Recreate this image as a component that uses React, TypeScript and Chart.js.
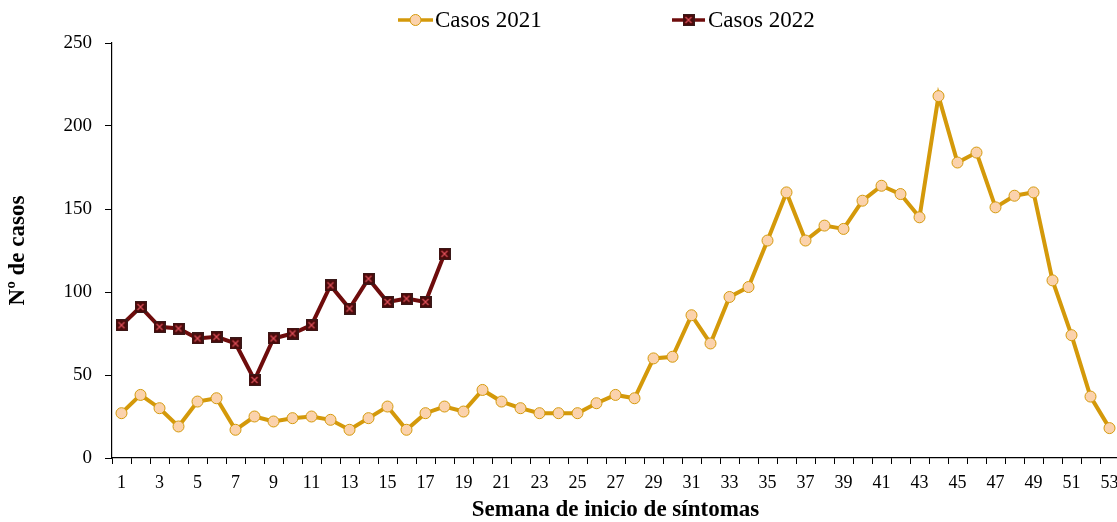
import React, { useEffect, useRef } from 'react';
import { Chart, registerables } from 'chart.js';

Chart.register(...registerables);

const weeks = ['1','2','3','4','5','6','7','8','9','10','11','12','13','14','15','16','17','18','19','20','21','22','23','24','25','26','27','28','29','30','31','32','33','34','35','36','37','38','39','40','41','42','43','44','45','46','47','48','49','50','51','52','53'];

const cases2021 = [27,38,30,19,34,36,17,25,22,24,25,23,17,24,31,17,27,31,28,41,34,30,27,27,27,33,38,36,60,61,86,69,97,103,131,160,131,140,138,155,164,159,145,218,178,184,151,158,160,107,74,37,18];

const cases2022 = [80,91,79,78,72,73,69,47,72,75,80,104,90,108,94,96,94,123];

const seriesLabels = ['Casos 2021', 'Casos 2022'];
const yTicks = [0, 50, 100, 150, 200, 250];

const GOLD = '#D4990A';
const PEACH = '#FBD2AC';
const MAROON = '#6E0C0C';
const SERIF = '"Liberation Serif", "Times New Roman", serif';

function makeSquareMarker(): HTMLCanvasElement {
  const c = document.createElement('canvas');
  c.width = 12;
  c.height = 12;
  const g = c.getContext('2d')!;
  g.fillStyle = '#4A0A0A';
  g.fillRect(0, 0, 12, 12);
  g.strokeStyle = '#3A1A1A';
  g.lineWidth = 1;
  g.strokeRect(0.5, 0.5, 11, 11);
  g.strokeStyle = '#E0505A';
  g.lineWidth = 1.2;
  g.beginPath();
  g.moveTo(3, 3); g.lineTo(9, 9);
  g.moveTo(9, 3); g.lineTo(3, 9);
  g.stroke();
  return c;
}

export default function App() {
  const ref = useRef<HTMLCanvasElement | null>(null);

  useEffect(() => {
    if (!ref.current) return;
    const square = makeSquareMarker();

    const legendPlugin = {
      id: 'customLegend',
      afterDraw(chart: any) {
        const ctx = chart.ctx;
        ctx.save();
        const y = 20;
        ctx.strokeStyle = GOLD;
        ctx.lineWidth = 3.5;
        ctx.beginPath();
        ctx.moveTo(398, y); ctx.lineTo(433, y);
        ctx.stroke();
        ctx.beginPath();
        ctx.arc(415.5, y, 5.5, 0, Math.PI * 2);
        ctx.fillStyle = PEACH;
        ctx.fill();
        ctx.lineWidth = 1;
        ctx.strokeStyle = GOLD;
        ctx.stroke();
        ctx.strokeStyle = MAROON;
        ctx.lineWidth = 3.5;
        ctx.beginPath();
        ctx.moveTo(672, y); ctx.lineTo(705, y);
        ctx.stroke();
        ctx.drawImage(square, 688.5 - 6, y - 6);
        ctx.fillStyle = '#000';
        ctx.font = `23px ${SERIF}`;
        ctx.textBaseline = 'middle';
        ctx.textAlign = 'left';
        ctx.fillText(seriesLabels[0], 435, y + 1);
        ctx.fillText(seriesLabels[1], 708, y + 1);
        ctx.restore();
      },
    };

    const chart = new Chart(ref.current, {
      type: 'line',
      data: {
        labels: weeks,
        datasets: [
          {
            label: seriesLabels[0],
            data: cases2021,
            borderColor: GOLD,
            backgroundColor: PEACH,
            borderWidth: 4,
            pointStyle: 'circle',
            pointRadius: 5.5,
            pointBackgroundColor: PEACH,
            pointBorderColor: GOLD,
            pointBorderWidth: 1,
            tension: 0,
            clip: false as any,
          },
          {
            label: seriesLabels[1],
            data: cases2022,
            borderColor: MAROON,
            backgroundColor: MAROON,
            borderWidth: 4,
            pointStyle: square as any,
            pointRadius: 6,
            tension: 0,
            clip: false as any,
          },
        ],
      },
      options: {
        responsive: false,
        animation: false,
        devicePixelRatio: 1,
        layout: { padding: { top: 43, right: 6, left: 0, bottom: 0 } },
        plugins: {
          legend: { display: false },
          tooltip: { enabled: false },
        },
        scales: {
          x: {
            offset: true,
            grid: {
              offset: true,
              drawOnChartArea: false,
              drawTicks: true,
              tickLength: 6,
              color: '#000',
            },
            border: { display: true, color: '#000', width: 1.2 },
            ticks: {
              autoSkip: false,
              maxRotation: 0,
              color: '#000',
              padding: 8,
              font: { family: SERIF, size: 18 },
              callback: (_v: any, i: number) => (i % 2 === 0 ? weeks[i] : ''),
            },
            title: {
              display: true,
              text: 'Semana de inicio de síntomas',
              color: '#000',
              font: { family: SERIF, size: 23, weight: 'bold', lineHeight: 1 },
              padding: { top: 0, bottom: 0 },
            },
            afterFit: (s: any) => { s.height = 64; },
          },
          y: {
            min: 0,
            max: 250,
            afterBuildTicks: (s: any) => { s.ticks = yTicks.map((v) => ({ value: v })); },
            grid: {
              drawOnChartArea: false,
              drawTicks: true,
              tickLength: 7,
              color: '#000',
            },
            border: { display: true, color: '#000', width: 1.2 },
            ticks: {
              color: '#000',
              padding: 13,
              font: { family: SERIF, size: 19 },
            },
            title: {
              display: true,
              text: 'Nº de casos',
              color: '#000',
              font: { family: SERIF, size: 23, weight: 'bold', lineHeight: 1 },
              padding: { top: 7, bottom: 0 },
            },
            afterFit: (s: any) => { s.width = 112; },
          },
        },
      },
      plugins: [legendPlugin],
    });
    return () => chart.destroy();
  }, []);

  return (
    <div style={{ position: 'fixed', left: 0, top: 0, width: 1117, height: 522, overflow: 'hidden', background: '#fff' }}>
      <canvas ref={ref} width={1129} height={522} style={{ width: 1129, height: 522, display: 'block' }} />
    </div>
  );
}
